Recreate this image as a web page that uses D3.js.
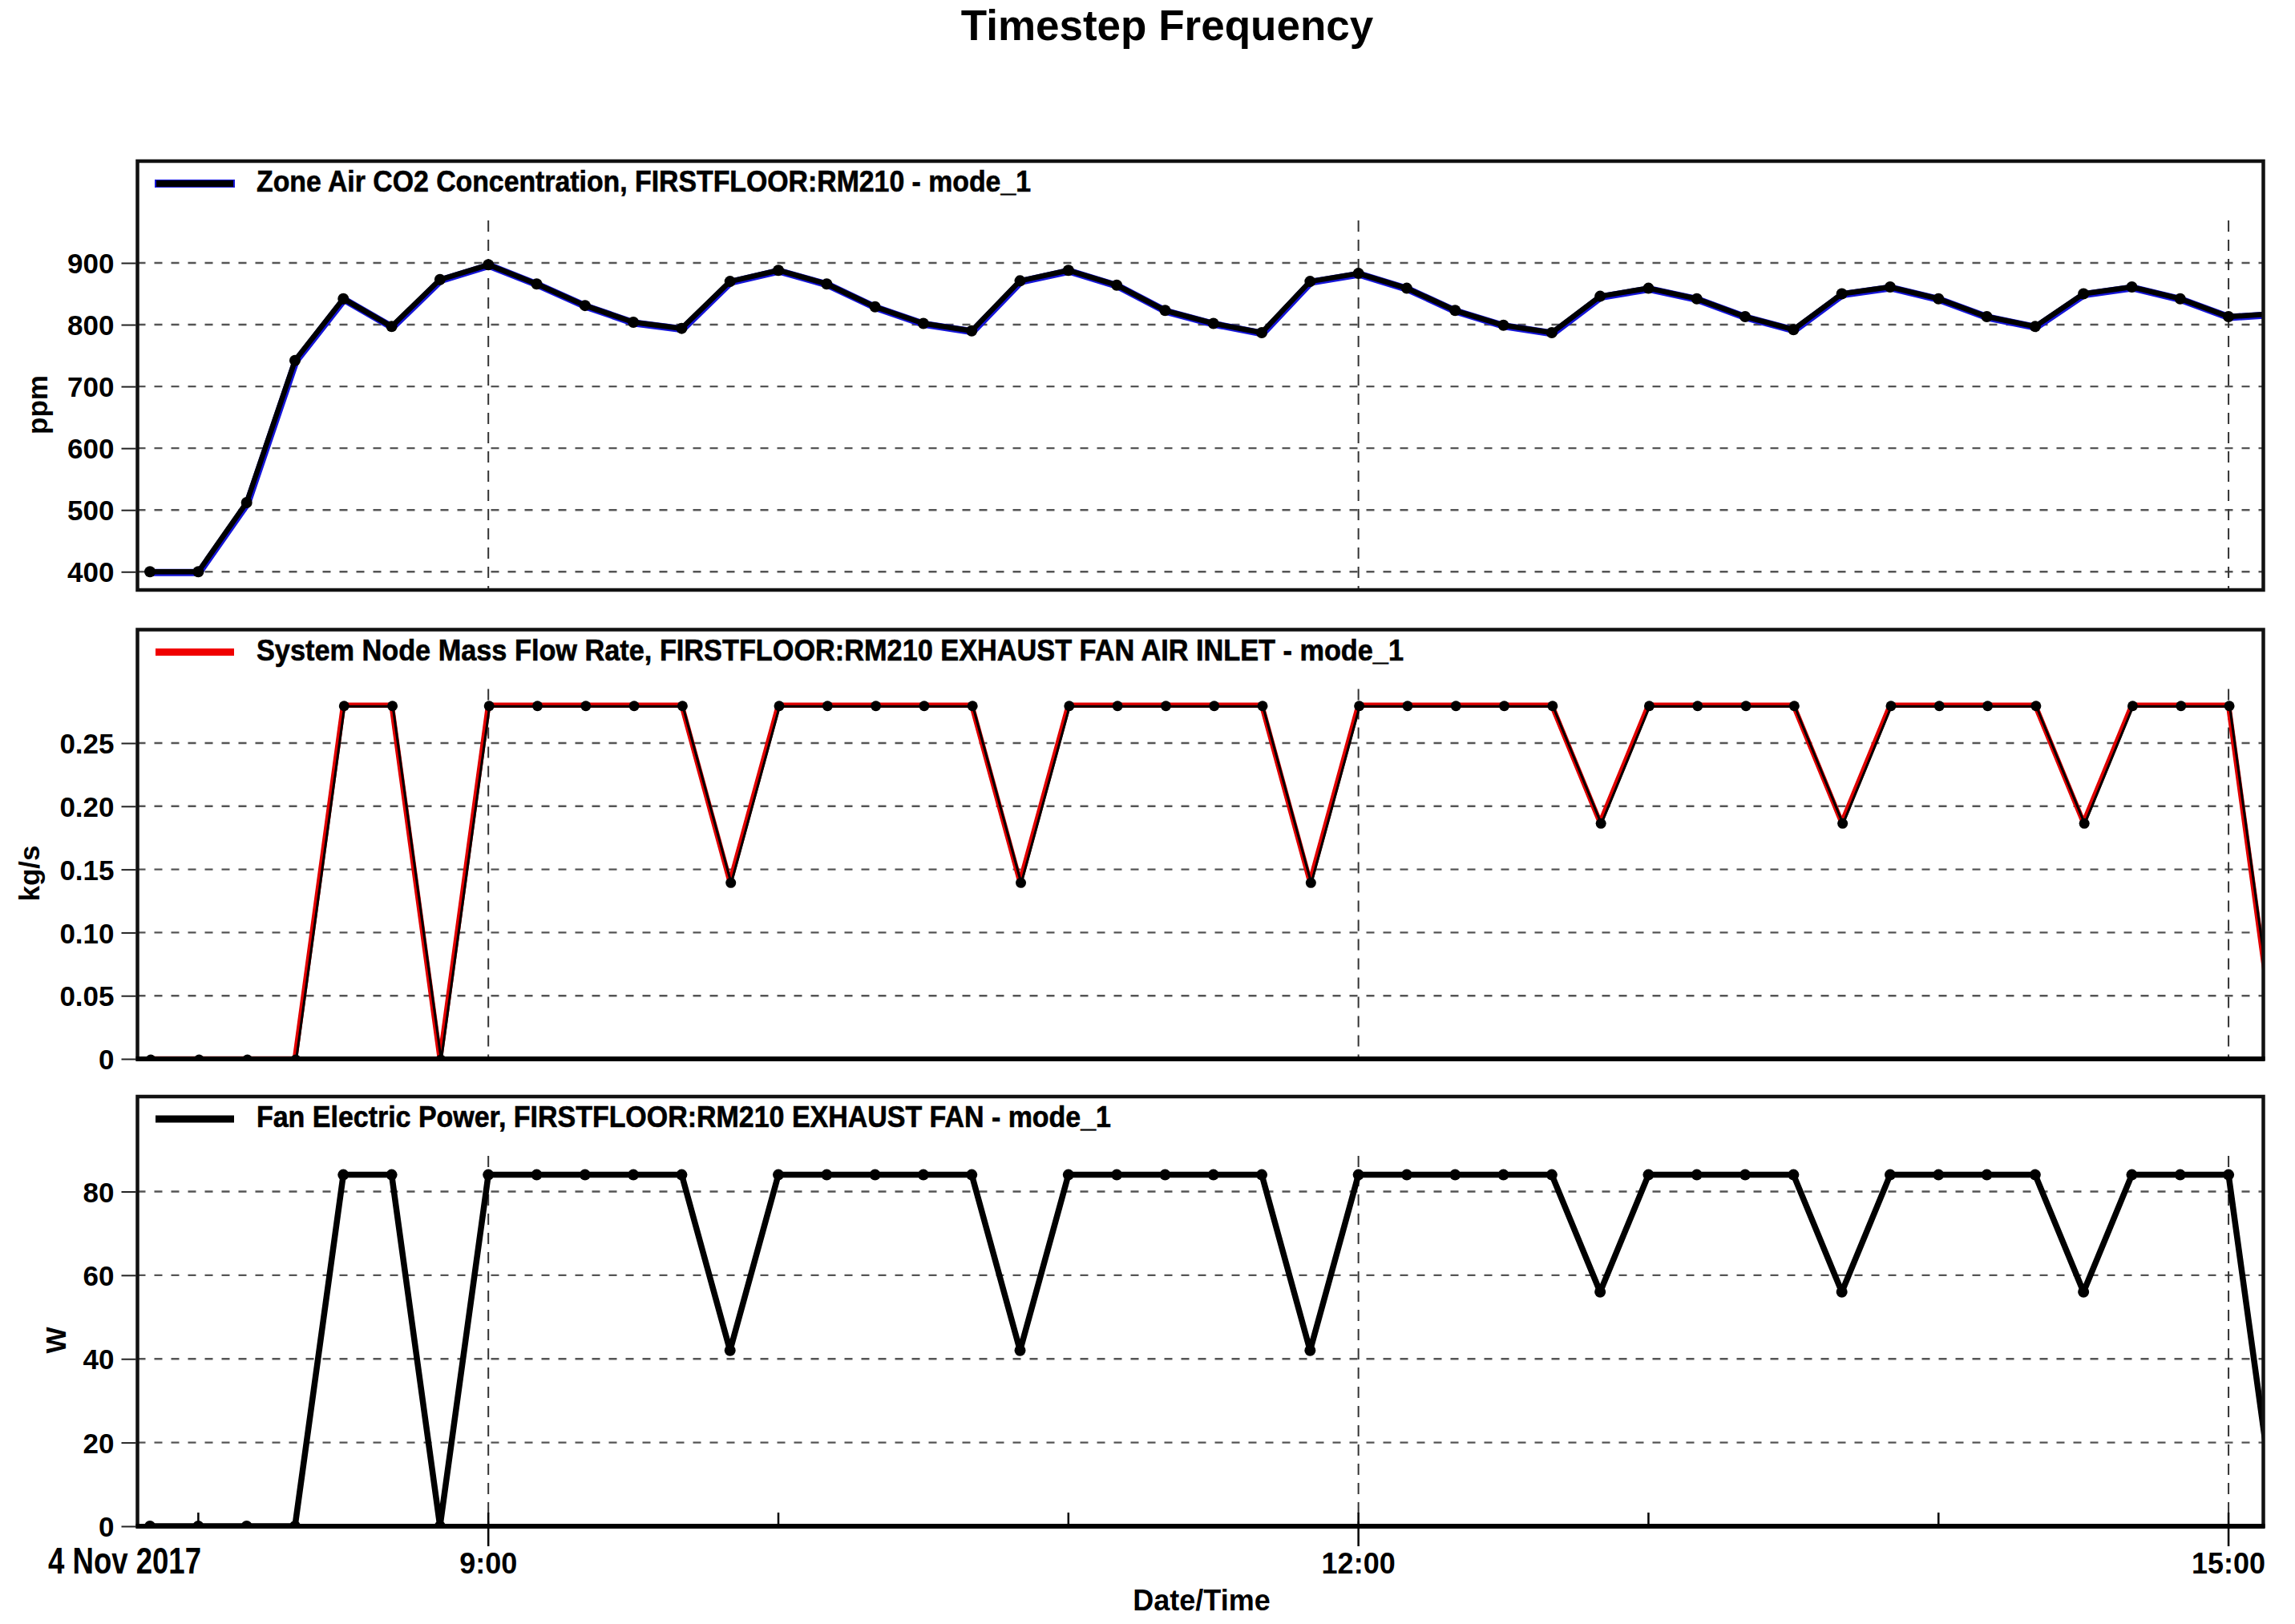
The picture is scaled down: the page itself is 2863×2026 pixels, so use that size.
<!DOCTYPE html>
<html>
<head>
<meta charset="utf-8">
<script src="https://cdn.jsdelivr.net/npm/d3@7"></script>
<style>
  body { margin: 0; background: #fff; }
  text { font-family: "Liberation Sans", Arial, sans-serif; font-weight: bold; fill: #000; }
</style>
</head>
<body>
<div id="chart"></div>
<script>
// timesteps (10 min) on 4 Nov 2017
var timeLabels = ["07:50", "08:00", "08:10", "08:20", "08:30", "08:40", "08:50",
    "09:00", "09:10", "09:20", "09:30", "09:40", "09:50",
    "10:00", "10:10", "10:20", "10:30", "10:40", "10:50",
    "11:00", "11:10", "11:20", "11:30", "11:40", "11:50",
    "12:00", "12:10", "12:20", "12:30", "12:40", "12:50",
    "13:00", "13:10", "13:20", "13:30", "13:40", "13:50",
    "14:00", "14:10", "14:20", "14:30", "14:40", "14:50",
    "15:00", "15:10"];

// Zone Air CO2 Concentration (ppm)
var co2Values = [400, 400, 512, 742, 842, 797, 873,
    897, 866, 831, 804, 794, 870,
    888, 866, 829, 802, 790, 871,
    888, 864, 823, 802, 787, 870,
    883, 859, 823, 799, 787, 846,
    859, 842, 813, 792, 850, 861,
    842, 813, 797, 850, 861, 842,
    813, 818];

// System Node Mass Flow Rate (kg/s)
var flowValues = [0, 0, 0, 0, 0.28, 0.28, 0,
    0.28, 0.28, 0.28, 0.28, 0.28, 0.14,
    0.28, 0.28, 0.28, 0.28, 0.28, 0.14,
    0.28, 0.28, 0.28, 0.28, 0.28, 0.14,
    0.28, 0.28, 0.28, 0.28, 0.28, 0.187,
    0.28, 0.28, 0.28, 0.28, 0.187, 0.28,
    0.28, 0.28, 0.28, 0.187, 0.28, 0.28,
    0.28, 0];

// Fan Electric Power (W)
var fanValues = [0, 0, 0, 0, 84, 84, 0,
    84, 84, 84, 84, 84, 42,
    84, 84, 84, 84, 84, 42,
    84, 84, 84, 84, 84, 42,
    84, 84, 84, 84, 84, 56,
    84, 84, 84, 84, 56, 84,
    84, 84, 84, 56, 84, 84,
    84, 0];

// tick labels
var majorHours = ["09:00", "12:00", "15:00"];
var minorHours = ["08:00", "10:00", "11:00", "13:00", "14:00"];
var co2Ticks = [400, 500, 600, 700, 800, 900];
var flowTicks = [0, 0.05, 0.10, 0.15, 0.20, 0.25];
var fanTicks = [0, 20, 40, 60, 80];

var chartTitle = "Timestep Frequency";
var dateLabel = "4 Nov 2017";
var xTitle = "Date/Time";

var svgWidth = 2863;
var svgHeight = 2026;
var plotLeft = 171.5;
var plotRight = 2823.5;

var parseTime = d3.timeParse("%Y-%m-%d %H:%M");
function toDate(t) { return parseTime("2017-11-04 " + t); }
var times = timeLabels.map(toDate);

var x = d3.scaleTime()
    .domain([new Date(2017, 10, 4, 7, 47, 25), new Date(2017, 10, 4, 15, 7, 12)])
    .range([plotLeft, plotRight]);

var svg = d3.select("#chart")
    .append("svg")
    .attr("width", svgWidth)
    .attr("height", svgHeight);

svg.append("rect").attr("width", svgWidth).attr("height", svgHeight).attr("fill", "#fff");

// chart title
svg.append("text")
    .attr("x", 1456)
    .attr("y", 50)
    .attr("text-anchor", "middle")
    .attr("font-size", 53)
    .text(chartTitle);

var panels = [
    {
        id: "co2", top: 201, bottom: 736, domain: [370.5, 1064.8], ticks: co2Ticks,
        format: d => String(d), values: co2Values, unit: "ppm", unitX: 59,
        legend: "Zone Air CO2 Concentration, FIRSTFLOOR:RM210 - mode_1", legendWidth: 966,
        kind: "blue"
    },
    {
        id: "flow", top: 785.5, bottom: 1321, domain: [0, 0.3398], ticks: flowTicks,
        format: d => d === 0 ? "0" : d3.format(".2f")(d), values: flowValues, unit: "kg/s", unitX: 49,
        legend: "System Node Mass Flow Rate, FIRSTFLOOR:RM210 EXHAUST FAN AIR INLET - mode_1", legendWidth: 1431,
        kind: "red"
    },
    {
        id: "fan", top: 1368, bottom: 1904, domain: [0, 102.7], ticks: fanTicks,
        format: d => String(d), values: fanValues, unit: "W", unitX: 82,
        legend: "Fan Electric Power, FIRSTFLOOR:RM210 EXHAUST FAN - mode_1", legendWidth: 1066,
        kind: "black"
    }
];

panels.forEach(function(p, pi) {
    var y = d3.scaleLinear().domain(p.domain).range([p.bottom, p.top]);
    var g = svg.append("g");
    var data = times.map((t, i) => ({ t: t, v: p.values[i] }));

    // clip to plot area
    svg.append("clipPath").attr("id", "clip-" + p.id)
        .append("rect")
        .attr("x", plotLeft).attr("y", p.top)
        .attr("width", plotRight - plotLeft).attr("height", p.bottom - p.top);

    // horizontal grid
    g.selectAll(".hgrid")
        .data(p.ticks.filter(d => y(d) < p.bottom - 3))
        .enter()
        .append("line")
        .attr("x1", plotLeft).attr("x2", plotRight)
        .attr("y1", d => y(d)).attr("y2", d => y(d))
        .attr("stroke", "#555")
        .attr("stroke-width", 2.4)
        .attr("stroke-dasharray", "10,11");

    // vertical grid at 9:00, 12:00, 15:00
    g.selectAll(".vgrid")
        .data(majorHours.map(toDate))
        .enter()
        .append("line")
        .attr("x1", d => x(d)).attr("x2", d => x(d))
        .attr("y1", p.top + 74).attr("y2", p.bottom)
        .attr("stroke", "#333")
        .attr("stroke-width", 2)
        .attr("stroke-dasharray", "14,10");

    var line = d3.line().x(d => x(d.t)).y(d => y(d.v));
    var plot = g.append("g").attr("clip-path", "url(#clip-" + p.id + ")");

    if (p.kind === "blue") {
        plot.append("path").datum(data).attr("d", line)
            .attr("fill", "none").attr("stroke", "#1515d8").attr("stroke-width", 9)
            .attr("stroke-linejoin", "round").attr("transform", "translate(1,1)");
        plot.append("path").datum(data).attr("d", line)
            .attr("fill", "none").attr("stroke", "#000").attr("stroke-width", 6.5)
            .attr("stroke-linejoin", "round");
        plot.selectAll("circle").data(data).enter().append("circle")
            .attr("cx", d => x(d.t)).attr("cy", d => y(d.v)).attr("r", 7).attr("fill", "#000");
    } else if (p.kind === "red") {
        plot.append("path").datum(data).attr("d", line)
            .attr("fill", "none").attr("stroke", "#e00000").attr("stroke-width", 6.5)
            .attr("stroke-linejoin", "round");
        plot.append("path").datum(data).attr("d", line)
            .attr("fill", "none").attr("stroke", "#000").attr("stroke-width", 3)
            .attr("stroke-linejoin", "round").attr("transform", "translate(1.5,1.5)");
        plot.selectAll("circle").data(data).enter().append("circle")
            .attr("cx", d => x(d.t) + 1).attr("cy", d => y(d.v) + 1).attr("r", 6.5).attr("fill", "#000");
    } else {
        plot.append("path").datum(data).attr("d", line)
            .attr("fill", "none").attr("stroke", "#000").attr("stroke-width", 7.5)
            .attr("stroke-linejoin", "round");
        plot.selectAll("circle").data(data).enter().append("circle")
            .attr("cx", d => x(d.t)).attr("cy", d => y(d.v)).attr("r", 7).attr("fill", "#000");
    }

    // frame
    g.append("rect")
        .attr("x", plotLeft).attr("y", p.top)
        .attr("width", plotRight - plotLeft).attr("height", p.bottom - p.top)
        .attr("fill", "none").attr("stroke", "#111").attr("stroke-width", 4.5);
    if (pi > 0) {
        g.append("line")
            .attr("x1", plotLeft - 2).attr("x2", plotRight + 2)
            .attr("y1", p.bottom).attr("y2", p.bottom)
            .attr("stroke", "#000").attr("stroke-width", 6);
    }

    // y axis
    var yAxis = d3.axisLeft(y).tickValues(p.ticks).tickSize(18).tickPadding(9).tickFormat(p.format);
    var ya = g.append("g").attr("transform", `translate(${plotLeft - 2}, 0)`).call(yAxis);
    ya.select(".domain").remove();
    ya.selectAll(".tick line").attr("stroke", "#222").attr("stroke-width", 2);
    ya.selectAll(".tick text")
        .attr("font-size", 35)
        .attr("font-family", "'Liberation Sans', Arial, sans-serif")
        .attr("font-weight", "bold")
        .attr("fill", "#000")
        .attr("dy", "0.36em");

    // unit label
    g.append("text")
        .attr("transform", `translate(${p.unitX}, ${p.top + 304}) rotate(-90)`)
        .attr("text-anchor", "middle")
        .attr("font-size", 35)
        .text(p.unit);

    // legend
    var legendY = p.top + 28;
    if (p.kind === "blue") {
        g.append("rect").attr("x", 193).attr("y", legendY - 5).attr("width", 100).attr("height", 10).attr("fill", "#1515d8");
        g.append("rect").attr("x", 195).attr("y", legendY - 4).attr("width", 96).attr("height", 8).attr("fill", "#000");
    } else {
        g.append("rect").attr("x", 194).attr("y", legendY - 4.5).attr("width", 98).attr("height", 9)
            .attr("fill", p.kind === "red" ? "#f00000" : "#000");
    }
    g.append("text")
        .attr("x", 320)
        .attr("y", p.top + 38)
        .attr("font-size", 36)
        .attr("textLength", p.legendWidth)
        .attr("lengthAdjust", "spacingAndGlyphs")
        .attr("stroke", "#000")
        .attr("stroke-width", 0.6)
        .text(p.legend);
});

// bottom time axis of the last panel
var axisY = panels[2].bottom;
svg.append("g").selectAll("line")
    .data(minorHours.map(toDate))
    .enter()
    .append("line")
    .attr("x1", d => x(d)).attr("x2", d => x(d))
    .attr("y1", axisY - 17).attr("y2", axisY)
    .attr("stroke", "#000").attr("stroke-width", 2.5);

svg.append("g").selectAll("line")
    .data(majorHours.map(toDate))
    .enter()
    .append("line")
    .attr("x1", d => x(d)).attr("x2", d => x(d))
    .attr("y1", axisY - 17).attr("y2", axisY + 25)
    .attr("stroke", "#000").attr("stroke-width", 2.5);

svg.append("g").selectAll("text")
    .data(majorHours.map(toDate))
    .enter()
    .append("text")
    .attr("x", d => x(d))
    .attr("y", 1963)
    .attr("text-anchor", "middle")
    .attr("font-size", 36)
    .text(d3.timeFormat("%-H:%M"));

svg.append("text")
    .attr("x", 60)
    .attr("y", 1963)
    .attr("font-size", 46)
    .attr("textLength", 191)
    .attr("lengthAdjust", "spacingAndGlyphs")
    .text(dateLabel);

svg.append("text")
    .attr("x", 1499)
    .attr("y", 2009)
    .attr("text-anchor", "middle")
    .attr("font-size", 36)
    .text(xTitle);
</script>
</body>
</html>
